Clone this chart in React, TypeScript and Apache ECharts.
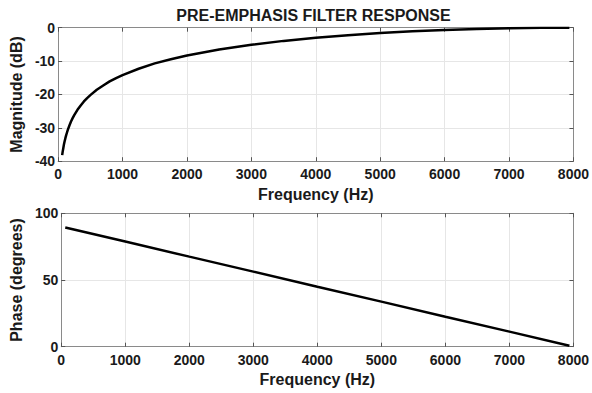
import React, { useEffect, useRef } from "react";
import * as echarts from "echarts";

const titleText = "PRE-EMPHASIS FILTER RESPONSE";
const magFreqs = [62.5, 70, 80, 90, 100, 112.5, 125, 137.5, 150, 175, 200, 225, 250, 300, 350, 400, 450, 500, 600, 700, 800, 900, 1000, 1250, 1500, 1750, 2000, 2500, 3000, 3500, 4000, 4500, 5000, 5500, 6000, 6500, 7000, 7500, 7937.5];
const magValues = [-38.2, -37.2, -36.1, -35.0, -34.1, -33.1, -32.2, -31.4, -30.6, -29.3, -28.1, -27.1, -26.2, -24.6, -23.3, -22.1, -21.1, -20.2, -18.6, -17.3, -16.1, -15.1, -14.2, -12.3, -10.7, -9.45, -8.34, -6.53, -5.11, -3.95, -3.01, -2.24, -1.6, -1.09, -0.69, -0.38, -0.17, -0.04, 0];
const phaseFreqs = [62.5, 1000, 2000, 3000, 4000, 5000, 6000, 7000, 7937.5];
const phaseValues = [89.3, 78.8, 67.5, 56.3, 45.0, 33.8, 22.5, 11.3, 0.7];
const xTicks = [0, 1000, 2000, 3000, 4000, 5000, 6000, 7000, 8000];
const magTicks = [-40, -30, -20, -10, 0];
const phaseTicks = [0, 50, 100];

const FONT = "'Liberation Sans', Arial, Helvetica, sans-serif";
const TXT = "#1a1a1a";
const BORDER = "#8a8a8a";
const TICK = "#555555";
const GRIDC = "#e6e6e6";

const plain = (v: number) => String(v);

function mainX(gridIndex: number) {
  return {
    type: "value",
    gridIndex,
    min: xTicks[0],
    max: xTicks[xTicks.length - 1],
    interval: 1000,
    position: "bottom",
    name: "Frequency (Hz)",
    nameLocation: "middle",
    nameGap: 25,
    nameTextStyle: { fontFamily: FONT, fontWeight: "bold", fontSize: 16, color: TXT },
    axisLine: { show: true, onZero: false, lineStyle: { color: BORDER, width: 1 } },
    axisTick: { show: true, inside: true, length: 4, lineStyle: { color: TICK } },
    axisLabel: { fontFamily: FONT, fontWeight: "bold", fontSize: 14, color: TXT, margin: 6, formatter: plain },
    splitLine: { show: true, lineStyle: { color: GRIDC, width: 1 } },
  };
}
function topX(gridIndex: number) {
  return {
    type: "value",
    gridIndex,
    min: xTicks[0],
    max: xTicks[xTicks.length - 1],
    interval: 1000,
    position: "top",
    axisLine: { show: true, onZero: false, lineStyle: { color: BORDER, width: 1 } },
    axisTick: { show: true, inside: true, length: 4, lineStyle: { color: TICK } },
    axisLabel: { show: false },
    splitLine: { show: false },
  };
}
function leftY(gridIndex: number, ticks: number[], interval: number, name: string, nameGap: number) {
  return {
    type: "value",
    gridIndex,
    min: ticks[0],
    max: ticks[ticks.length - 1],
    interval,
    position: "left",
    name,
    nameLocation: "middle",
    nameGap,
    nameTextStyle: { fontFamily: FONT, fontWeight: "bold", fontSize: 16, color: TXT },
    axisLine: { show: true, onZero: false, lineStyle: { color: BORDER, width: 1 } },
    axisTick: { show: true, inside: true, length: 4, lineStyle: { color: TICK } },
    axisLabel: { fontFamily: FONT, fontWeight: "bold", fontSize: 14, color: TXT, margin: 3, formatter: plain },
    splitLine: { show: true, lineStyle: { color: GRIDC, width: 1 } },
  };
}
function rightY(gridIndex: number, ticks: number[], interval: number) {
  return {
    type: "value",
    gridIndex,
    min: ticks[0],
    max: ticks[ticks.length - 1],
    interval,
    position: "right",
    axisLine: { show: true, onZero: false, lineStyle: { color: BORDER, width: 1 } },
    axisTick: { show: true, inside: true, length: 4, lineStyle: { color: TICK } },
    axisLabel: { show: false },
    splitLine: { show: false },
  };
}

export default function App() {
  const ref = useRef<HTMLDivElement>(null);
  useEffect(() => {
    if (!ref.current) return;
    const chart = echarts.init(ref.current, null, { renderer: "svg" });
    const magData = magFreqs.map((f, i) => [f, magValues[i]]);
    const phaseData = phaseFreqs.map((f, i) => [f, phaseValues[i]]);
    chart.setOption({
      animation: false,
      backgroundColor: "#ffffff",
      title: {
        text: titleText,
        left: 313.5,
        textAlign: "center",
        top: 7,
        padding: 0,
        textStyle: { fontFamily: FONT, fontWeight: "bold", fontSize: 16, color: TXT },
      },
      grid: [
        { left: 52.5, right: 17, top: 27.7, height: 133.5 },
        { left: 53.5, right: 17, top: 213.3, height: 133.4 },
      ],
      xAxis: [mainX(0), topX(0), mainX(1), topX(1)],
      yAxis: [
        leftY(0, magTicks, 10, "Magnitude (dB)", 22),
        rightY(0, magTicks, 10),
        leftY(1, phaseTicks, 50, "Phase (degrees)", 22),
        rightY(1, phaseTicks, 50),
      ],
      series: [
        {
          type: "line",
          xAxisIndex: 0,
          yAxisIndex: 0,
          data: magData,
          smooth: false,
          showSymbol: false,
          symbol: "none",
          lineStyle: { color: "#000000", width: 2.5, join: "round" },
          silent: true,
        },
        {
          type: "line",
          xAxisIndex: 2,
          yAxisIndex: 2,
          data: phaseData,
          showSymbol: false,
          symbol: "none",
          lineStyle: { color: "#000000", width: 2.5 },
          silent: true,
        },
      ],
    });
    return () => chart.dispose();
  }, []);
  return (
    <div
      ref={ref}
      style={{ position: "fixed", left: 0, top: 0, width: 592, height: 393, background: "#fff" }}
    />
  );
}
